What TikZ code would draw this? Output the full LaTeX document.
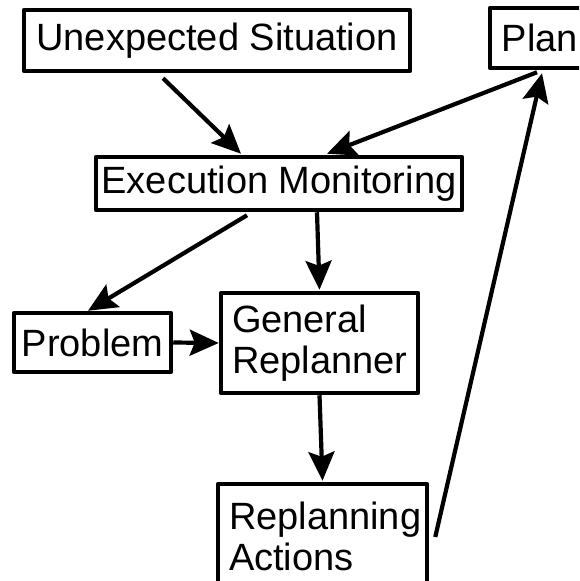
\documentclass[tikz,border=0pt]{standalone}
\usepackage{fontspec}
\setmainfont{Liberation Sans}
\usetikzlibrary{arrows.meta,calc}
\tikzset{
  box/.style={draw, line width=4.5pt, line join=round, inner sep=0pt, font=\fontsize{38}{41}\selectfont},
  lbox/.style={box, align=left, inner xsep=11pt},
  conn/.style={line width=4.2pt, -{Stealth[length=29pt 0,width=26pt 0,inset=5pt 0]}}
}
\begin{document}
\begin{tikzpicture}[x=1pt,y=-1pt]
\useasboundingbox (0,0) rectangle (579,581);
\clip (0,0) rectangle (579,581);
% boxes
\node[box, minimum width=386pt, minimum height=61pt] (u) at (217,40.5) {Unexpected Situation};
\node[box, minimum width=100pt, minimum height=60pt] (p) at (540,38) {Plan};
\node[box, minimum width=366pt, minimum height=53pt] (e) at (279,183.5) {Execution Monitoring};
\node[box, minimum width=157pt, minimum height=59pt] (pr) at (92.5,342.5) {Problem};
\node[lbox, text width=175pt, minimum height=100pt] (g) at (319.5,343) {General\\Replanner};
\node[lbox, text width=187pt, minimum height=104pt] (ra) at (322.5,536) {Replanning\\Actions};
% connectors
\draw[conn] ($(u.south)+(-54,5)$) -- ($(e.north)+(-38,-1)$);
\draw[conn] ($(p.south)+(-3,2)$) -- ($(e.north)+(48,-1)$);
\draw[conn] ($(ra.east)+(6,1)$) -- ($(p.south)+(2,3)$);
\draw[conn] ($(e.south)+(-32,3)$) -- ($(pr.north)+(-4.5,0)$);
\draw[conn] ($(e.south)+(38,0)$) -- ($(g.north)+(0,-1)$);
\draw[conn] (pr.east) -- (g.west);
\draw[conn] (g.south) -- ($(ra.north)+(0,-1)$);
\end{tikzpicture}
\end{document}
